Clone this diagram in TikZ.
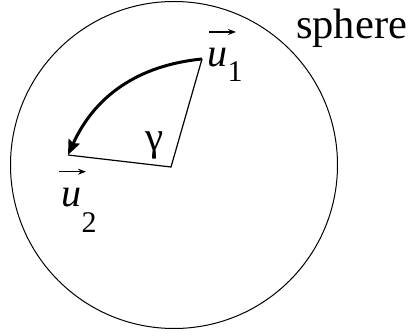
\documentclass[tikz,border=0pt]{standalone}
\usepackage{fontspec}
\setmainfont{Liberation Serif}
\usetikzlibrary{arrows.meta,calc}
\tikzset{
  ball/.style ={draw=black,line width=1pt,circle,inner sep=0pt},
  rad/.style  ={draw=black,line width=1.2pt},
  turn/.style ={-{Stealth[length=15pt,width=12pt,inset=2pt]},line width=3pt},
  vbar/.style ={-{Stealth[length=8pt,width=6pt]},line width=1.2pt},
  lab/.style  ={inner sep=0pt,font=\fontsize{40}{42}\selectfont},
}
\newcommand{\subsz}{\fontsize{30}{32}\selectfont\upshape}

\begin{document}
\begin{tikzpicture}[x=1pt,y=1pt]
  \useasboundingbox (0,0) rectangle (409,-336);
  % sphere
  \node[ball,minimum size=327pt] (sph) at (174,-165) {};
  \node[lab,anchor=base west,font=\fontsize{42.5}{44}\selectfont] (sphlab) at (296,-39) {sphere};

  % the two unit vectors
  \coordinate (o)  at (171,-167);
  \coordinate (u1) at (202,-59);
  \coordinate (u2) at (68,-155);
  \draw[rad] (u2) -- (o) -- (u1);
  \draw[turn] (u1) to[bend right=30] (u2);
  \node[lab,anchor=base,font=\fontsize{41}{43}\selectfont] (gam) at (154.5,-151) {γ};

  % labels
  \node[lab,anchor=base west] (u1lab) at (207.5,-67) {\itshape u\raisebox{-15pt}{\subsz 1}};
  \node[lab,anchor=base west] (u2lab) at (61.5,-206.7) {\itshape u\raisebox{-26pt}{\subsz 2}};
  \draw[vbar] ([shift={(1.5pt,35pt)}]u1lab.base west) -- ++(27pt,0);
  \draw[vbar] ([shift={(-2.5pt,35pt)}]u2lab.base west) -- ++(27pt,0);
\end{tikzpicture}
\end{document}
